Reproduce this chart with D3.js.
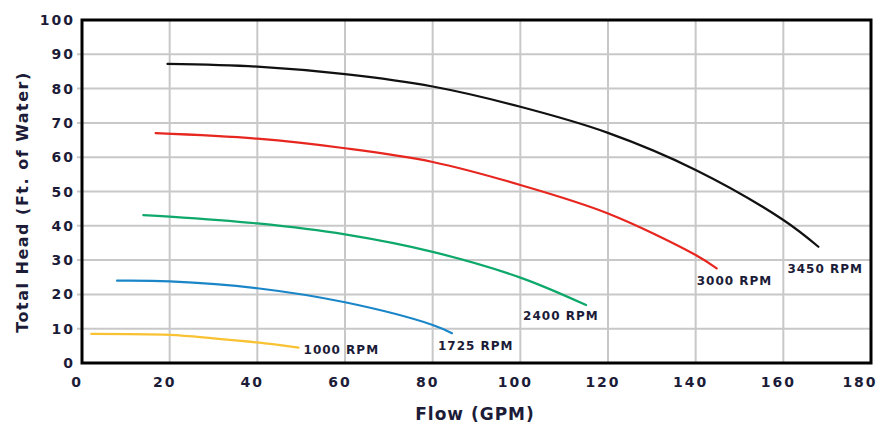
<!DOCTYPE html>
<html>
<head>
<meta charset="utf-8">
<script src="https://cdn.jsdelivr.net/npm/d3@7"></script>
<style>
  html, body { margin: 0; padding: 0; background: #fff; }
  svg { display: block; }
  text { font-family: "DejaVu Sans", sans-serif; font-weight: bold; }
</style>
</head>
<body>
<svg id="chart" width="882" height="428"></svg>
<script>
// ---- data ----
const xTicks = [0, 20, 40, 60, 80, 100, 120, 140, 160, 180];
const yTicks = [0, 10, 20, 30, 40, 50, 60, 70, 80, 90, 100];

const seriesNames = ["1000 RPM", "1725 RPM", "2400 RPM", "3000 RPM", "3450 RPM"];

const rpm1000X = [2.1, 20, 30, 40, 49.4];
const rpm1000Y = [8.5, 8.2, 7.2, 6.0, 4.5];

const rpm1725X = [8.0, 20, 40, 60, 80, 84.4];
const rpm1725Y = [24.0, 23.8, 21.8, 17.7, 11.1, 8.7];

const rpm2400X = [14.0, 20, 40, 60, 80, 100, 115.0];
const rpm2400Y = [43.1, 42.7, 40.7, 37.5, 32.4, 24.9, 16.9];

const rpm3000X = [16.8, 40, 60, 80, 100, 120, 140, 144.8];
const rpm3000Y = [67.0, 65.4, 62.6, 58.6, 51.9, 43.6, 31.5, 27.6];

const rpm3450X = [19.5, 40, 60, 80, 100, 120, 140, 160, 168.0];
const rpm3450Y = [87.2, 86.4, 84.2, 80.6, 74.7, 67.1, 56.3, 41.7, 33.9];

// ---- layout / style ----
const colors = ["#f9c232", "#1a86c8", "#0ea86a", "#e6261f", "#111111"];
const labelOffsets = [[5, 2], [-14, 13], [-63, 11], [-20, 13], [-31, 22]];
const textColor = "#1c1c38";

const svg = d3.select("#chart");
const plotL = 82, plotR = 871, plotT = 20, plotB = 363;

const x = d3.scaleLinear().domain([0, 180]).range([plotL, plotR]);
const y = d3.scaleLinear().domain([0, 100]).range([plotB, plotT]);

// gridlines
svg.append("g").selectAll("line")
  .data(xTicks.filter(d => d > 0 && d < 180))
  .join("line")
  .attr("x1", d => x(d)).attr("x2", d => x(d))
  .attr("y1", plotT).attr("y2", plotB)
  .attr("stroke", "#c8c8c8").attr("stroke-width", 2);

svg.append("g").selectAll("line")
  .data(yTicks.filter(d => d > 0 && d < 100))
  .join("line")
  .attr("x1", plotL - 5).attr("x2", plotR)
  .attr("y1", d => y(d)).attr("y2", d => y(d))
  .attr("stroke", "#c8c8c8").attr("stroke-width", 2);

// frame
svg.append("rect")
  .attr("x", plotL).attr("y", plotT)
  .attr("width", plotR - plotL).attr("height", plotB - plotT)
  .attr("fill", "none").attr("stroke", "#000").attr("stroke-width", 3);

// y tick labels
svg.append("g").selectAll("text")
  .data(yTicks)
  .join("text")
  .attr("x", plotL - 7)
  .attr("y", d => y(d))
  .attr("text-anchor", "end")
  .attr("dominant-baseline", "central")
  .attr("font-size", 14)
  .attr("letter-spacing", 2)
  .attr("fill", textColor)
  .text(d => d);

// x tick labels
svg.append("g").selectAll("text")
  .data(xTicks)
  .join("text")
  .attr("x", d => Math.min(x(d) - 5, 860))
  .attr("y", 382)
  .attr("text-anchor", "middle")
  .attr("dominant-baseline", "central")
  .attr("font-size", 14)
  .attr("letter-spacing", 2)
  .attr("fill", textColor)
  .text(d => d);

// axis titles
svg.append("text")
  .attr("x", 475).attr("y", 414)
  .attr("text-anchor", "middle")
  .attr("dominant-baseline", "central")
  .attr("font-size", 17)
  .attr("letter-spacing", 1)
  .attr("fill", textColor)
  .text("Flow (GPM)");

svg.append("text")
  .attr("transform", "translate(22,202) rotate(-90)")
  .attr("text-anchor", "middle")
  .attr("dominant-baseline", "central")
  .attr("font-size", 16)
  .attr("letter-spacing", 1.5)
  .attr("fill", textColor)
  .text("Total Head (Ft. of Water)");

// curves
const series = [
  [rpm1000X, rpm1000Y],
  [rpm1725X, rpm1725Y],
  [rpm2400X, rpm2400Y],
  [rpm3000X, rpm3000Y],
  [rpm3450X, rpm3450Y]
].map(([xs, ys], i) => ({
  name: seriesNames[i],
  color: colors[i],
  off: labelOffsets[i],
  pts: xs.map((v, j) => [v, ys[j]])
}));

const line = d3.line()
  .x(d => x(d[0])).y(d => y(d[1]))
  .curve(d3.curveCatmullRom.alpha(0.5));

svg.append("g").selectAll("path")
  .data(series)
  .join("path")
  .attr("d", d => line(d.pts))
  .attr("fill", "none")
  .attr("stroke", d => d.color)
  .attr("stroke-width", 2.2)
  .attr("stroke-linecap", "round");

// series labels
svg.append("g").selectAll("text")
  .data(series)
  .join("text")
  .attr("x", d => x(d.pts[d.pts.length - 1][0]) + d.off[0])
  .attr("y", d => y(d.pts[d.pts.length - 1][1]) + d.off[1])
  .attr("dominant-baseline", "central")
  .attr("font-size", 12)
  .attr("letter-spacing", 1)
  .attr("fill", textColor)
  .text(d => d.name);
</script>
</body>
</html>
